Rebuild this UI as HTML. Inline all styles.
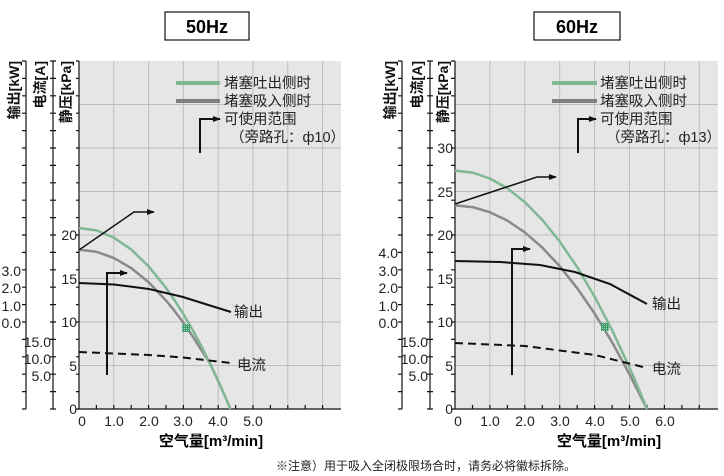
<!DOCTYPE html>
<html><head><meta charset="utf-8"><style>
html,body{margin:0;padding:0;background:#fff;}
svg{display:block;font-family:"Liberation Sans","Noto Sans CJK SC",sans-serif;}
</style></head><body>
<svg width="724" height="476" viewBox="0 0 724 476" xmlns="http://www.w3.org/2000/svg">
<defs>
<pattern id="h" width="2" height="2" patternUnits="userSpaceOnUse"><rect width="2" height="2" fill="#3a9a6a"/><rect width="1" height="1" fill="#a8d8bc"/></pattern>
<marker id="ar" markerWidth="8" markerHeight="6" refX="7" refY="3" orient="auto" markerUnits="userSpaceOnUse"><path d="M0,0 L8,3 L0,6 Z" fill="#111"/></marker>
</defs>

<!-- ===== LEFT CHART ===== -->
<rect x="165" y="12" width="84" height="28" fill="#fff" stroke="#111" stroke-width="1.2"/>
<text x="207" y="33" font-size="18" font-weight="bold" text-anchor="middle">50Hz</text>
<rect x="79" y="61" width="262" height="348" fill="#e6e6e6"/>
<g stroke="#bdbdbd" stroke-width="1">
<path d="M113.8,61V409M148.6,61V409M183.4,61V409M218.2,61V409M253,61V409M287.8,61V409M322.6,61V409"/>
<path d="M79,365.5H341M79,322H341M79,278.5H341M79,235H341M79,191.5H341M79,148H341M79,104.5H341"/>
</g>
<g stroke="#111" stroke-width="1.2" fill="none">
<path d="M79,61V409H341"/>
<path d="M26,61V409M53,61V409"/>
<path d="M76,409H79M76,391.6H79M76,374.2H79M76,356.8H79M76,339.4H79M76,322H79M76,304.6H79M76,287.2H79M76,269.8H79M76,252.4H79M76,235H79M76,217.6H79M76,200.2H79M76,182.8H79M76,165.4H79M76,148H79M76,130.6H79M76,113.2H79M76,95.8H79M76,78.4H79M76,61H79"/>
<path d="M50,409H56M50,391.6H56M50,374.2H56M50,356.8H56M50,339.4H56M50,322H56M50,304.6H56M50,287.2H56M50,269.8H56M50,252.4H56M50,235H56M50,217.6H56M50,200.2H56M50,182.8H56M50,165.4H56M50,148H56M50,130.6H56M50,113.2H56M50,95.8H56M50,78.4H56M50,61H56"/>
<path d="M22,409H26M22,391.6H26M22,374.2H26M22,356.8H26M22,339.4H26M22,322H26M22,304.6H26M22,287.2H26M22,269.8H26M22,252.4H26M22,235H26M22,217.6H26M22,200.2H26M22,182.8H26M22,165.4H26M22,148H26M22,130.6H26M22,113.2H26M22,95.8H26M22,78.4H26M22,61H26"/>
<path d="M96.4,409V405M113.8,409V405M131.2,409V405M148.6,409V405M166,409V405M183.4,409V405M200.8,409V405M218.2,409V405M235.6,409V405M253,409V405M270.4,409V405M287.8,409V405M305.2,409V405M322.6,409V405"/>
</g>
<g font-size="14" fill="#222" text-anchor="end">
<text x="77" y="414">0</text><text x="77" y="371">5</text><text x="77" y="327">10</text><text x="77" y="284">15</text><text x="77" y="240">20</text>
<text x="21" y="276">3.0</text><text x="21" y="293">2.0</text><text x="21" y="311">1.0</text><text x="21" y="328">0.0</text>
<text x="51" y="347">15.0</text><text x="51" y="364">10.0</text><text x="51" y="381">5.0</text>
</g>
<g font-size="14" fill="#222" text-anchor="middle">
<text x="82" y="426">0</text><text x="114" y="426">1.0</text><text x="149" y="426">2.0</text><text x="183" y="426">3.0</text><text x="218" y="426">4.0</text><text x="253" y="426">5.0</text>
</g>
<text x="211" y="446" font-size="15" font-weight="bold" text-anchor="middle">空气量[m³/min]</text>
<g font-size="14" font-weight="bold" fill="#111">
<text transform="translate(19,61) rotate(-90)" text-anchor="end">输出[kW]</text>
<text transform="translate(45,61) rotate(-90)" text-anchor="end">电流[A]</text>
<text transform="translate(71,61) rotate(-90)" text-anchor="end">静压[kPa]</text>
</g>
<path d="M176,83H220" stroke="#7fb894" stroke-width="4"/>
<path d="M176,101H220" stroke="#808080" stroke-width="4"/>
<g font-size="14.5" fill="#222">
<text x="224" y="88">堵塞吐出侧时</text>
<text x="224" y="106">堵塞吸入侧时</text>
<text x="224" y="124">可使用范围</text>
<text x="230" y="142">（旁路孔：ф10）</text>
</g>
<path d="M200,153V119H220" stroke="#111" stroke-width="2" fill="none" marker-end="url(#ar)"/>
<path d="M79,249.8 L96.4,251.8 113.8,257.9 131.2,268.1 148.6,282.2 166,300.5 174.7,311.1 183.4,322.8 192.1,335.5 200.8,349.2 209.5,362.5 218.2,381 225.2,396.7 230.4,409" stroke="#8a8a8a" stroke-width="2.5" fill="none" stroke-linejoin="round"/>
<path d="M79,228 L96.4,230.4 113.8,237.6 131.2,249.5 148.6,266.3 166,287.8 174.7,300.5 183.4,314.1 192.1,329 200.8,345.1 209.5,362.5 218.2,381 225.2,396.7 230.4,409" stroke="#7fb894" stroke-width="2.5" fill="none" stroke-linejoin="round"/>
<path d="M79,283 L114,284.5 149,289 183,297 210,305.5 231,312" stroke="#111" stroke-width="2" fill="none"/>
<path d="M79,352 L149,355 183,357.5 231,363" stroke="#111" stroke-width="2" stroke-dasharray="8,5" fill="none"/>
<text x="234" y="317" font-size="14.5" fill="#222">输出</text>
<text x="237" y="370" font-size="14.5" fill="#222">电流</text>
<path d="M79,250 L134,212 H154" stroke="#111" stroke-width="1.5" fill="none" marker-end="url(#ar)"/>
<path d="M107,375 V273 H127" stroke="#111" stroke-width="2" fill="none" marker-end="url(#ar)"/>
<rect x="182" y="324" width="8" height="8" fill="url(#h)"/>

<!-- ===== RIGHT CHART ===== -->
<rect x="534" y="12" width="86" height="28" fill="#fff" stroke="#111" stroke-width="1.2"/>
<text x="577" y="33" font-size="18" font-weight="bold" text-anchor="middle">60Hz</text>
<rect x="455" y="61" width="263" height="348" fill="#e6e6e6"/>
<g stroke="#bdbdbd" stroke-width="1">
<path d="M489.9,61V409M524.8,61V409M559.7,61V409M594.6,61V409M629.5,61V409M664.4,61V409M699.3,61V409"/>
<path d="M455,365.5H718M455,322H718M455,278.5H718M455,235H718M455,191.5H718M455,148H718M455,104.5H718"/>
</g>
<g stroke="#111" stroke-width="1.2" fill="none">
<path d="M455,61V409H718"/>
<path d="M402,61V409M430,61V409"/>
<path d="M451,409H455M451,391.6H455M451,374.2H455M451,356.8H455M451,339.4H455M451,322H455M451,304.6H455M451,287.2H455M451,269.8H455M451,252.4H455M451,235H455M451,217.6H455M451,200.2H455M451,182.8H455M451,165.4H455M451,148H455M451,130.6H455M451,113.2H455M451,95.8H455M451,78.4H455M451,61H455"/>
<path d="M427,409H433M427,391.6H433M427,374.2H433M427,356.8H433M427,339.4H433M427,322H433M427,304.6H433M427,287.2H433M427,269.8H433M427,252.4H433M427,235H433M427,217.6H433M427,200.2H433M427,182.8H433M427,165.4H433M427,148H433M427,130.6H433M427,113.2H433M427,95.8H433M427,78.4H433M427,61H433"/>
<path d="M398,409H402M398,391.6H402M398,374.2H402M398,356.8H402M398,339.4H402M398,322H402M398,304.6H402M398,287.2H402M398,269.8H402M398,252.4H402M398,235H402M398,217.6H402M398,200.2H402M398,182.8H402M398,165.4H402M398,148H402M398,130.6H402M398,113.2H402M398,95.8H402M398,78.4H402M398,61H402"/>
<path d="M472.5,409V405M489.9,409V405M507.4,409V405M524.8,409V405M542.3,409V405M559.7,409V405M577.2,409V405M594.6,409V405M612.1,409V405M629.5,409V405M647,409V405M664.4,409V405M681.9,409V405M699.3,409V405"/>
</g>
<g font-size="14" fill="#222" text-anchor="end">
<text x="453" y="414">0</text><text x="453" y="371">5</text><text x="453" y="327">10</text><text x="453" y="284">15</text><text x="453" y="240">20</text><text x="453" y="197">25</text><text x="453" y="153">30</text>
<text x="398" y="258">4.0</text><text x="398" y="276">3.0</text><text x="398" y="293">2.0</text><text x="398" y="311">1.0</text><text x="398" y="328">0.0</text>
<text x="428" y="347">15.0</text><text x="428" y="364">10.0</text><text x="428" y="381">5.0</text>
</g>
<g font-size="14" fill="#222" text-anchor="middle">
<text x="458" y="426">0</text><text x="490" y="426">1.0</text><text x="525" y="426">2.0</text><text x="560" y="426">3.0</text><text x="595" y="426">4.0</text><text x="630" y="426">5.0</text><text x="665" y="426">6.0</text>
</g>
<text x="609" y="446" font-size="15" font-weight="bold" text-anchor="middle">空气量[m³/min]</text>
<g font-size="14" font-weight="bold" fill="#111">
<text transform="translate(395,61) rotate(-90)" text-anchor="end">输出[kW]</text>
<text transform="translate(422,61) rotate(-90)" text-anchor="end">电流[A]</text>
<text transform="translate(448,61) rotate(-90)" text-anchor="end">静压[kPa]</text>
</g>
<path d="M552,83H597" stroke="#7fb894" stroke-width="4"/>
<path d="M552,101H597" stroke="#808080" stroke-width="4"/>
<g font-size="14.5" fill="#222">
<text x="600" y="88">堵塞吐出侧时</text>
<text x="600" y="106">堵塞吸入侧时</text>
<text x="600" y="124">可使用范围</text>
<text x="606" y="142">（旁路孔：ф13）</text>
</g>
<path d="M578,153V119H596" stroke="#111" stroke-width="2" fill="none" marker-end="url(#ar)"/>
<path d="M455,205.4 L472.5,207.1 489.9,212.2 507.4,220.6 524.8,232.4 542.3,247.6 559.7,266.2 577.2,288.2 594.6,313.5 612.1,342.2 629.5,374.3 638.2,391.6 647,409" stroke="#8a8a8a" stroke-width="2.5" fill="none" stroke-linejoin="round"/>
<path d="M455,170.6 L472.5,172.6 489.9,178.5 507.4,188.3 524.8,202.1 542.3,219.9 559.7,241.5 577.2,267.1 594.6,296.7 612.1,330.2 629.5,367.6 638.2,387.8 647,409" stroke="#7fb894" stroke-width="2.5" fill="none" stroke-linejoin="round"/>
<path d="M455,261 L500,262 540,265 575,272 610,284 647,304" stroke="#111" stroke-width="2" fill="none"/>
<path d="M455,343 L525,346 595,355 647,368" stroke="#111" stroke-width="2" stroke-dasharray="8,5" fill="none"/>
<text x="652" y="309" font-size="14.5" fill="#222">输出</text>
<text x="652" y="374" font-size="14.5" fill="#222">电流</text>
<path d="M455,204 L537,177 H556" stroke="#111" stroke-width="1.5" fill="none" marker-end="url(#ar)"/>
<path d="M512,375 V249 H530" stroke="#111" stroke-width="2" fill="none" marker-end="url(#ar)"/>
<rect x="601" y="323" width="8" height="8" fill="url(#h)"/>

<text x="426" y="470" font-size="12" fill="#222" text-anchor="middle">※注意）用于吸入全闭极限场合时，请务必将徽标拆除。</text>
</svg>
</body></html>
